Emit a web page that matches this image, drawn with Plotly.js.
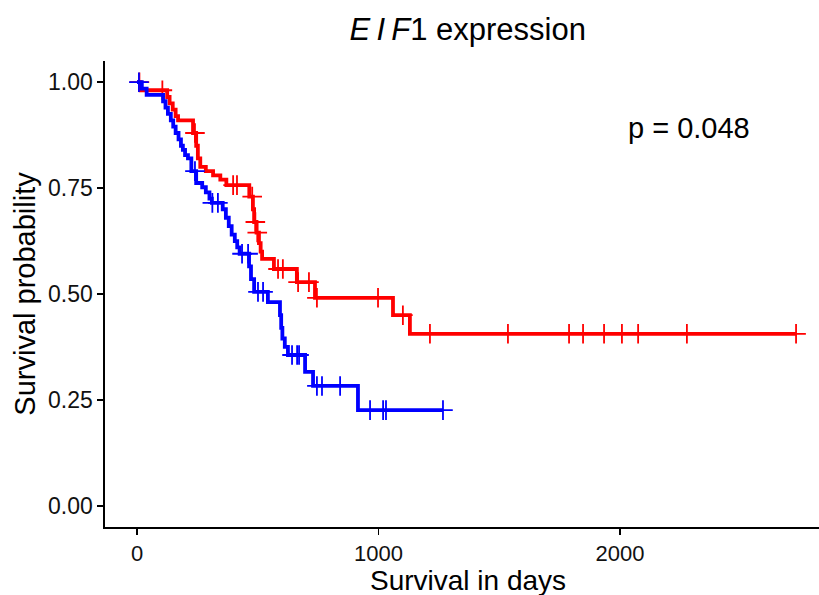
<!DOCTYPE html>
<html>
<head>
<meta charset="utf-8">
<script src="https://cdn.plot.ly/plotly-3.0.1.min.js"></script>
<style>html,body{margin:0;padding:0;background:#fff;}#chart{width:819px;height:595px;}</style>
</head>
<body>
<div id="chart"></div>
<script>
// High expression (red) step curve
var redTimes = [0, 15, 125, 135, 148, 160, 170, 232, 245, 252, 262, 285, 315, 345, 370, 465, 480, 485, 495, 505, 512, 518, 567, 662, 737, 1060, 1130, 2729];
var redSurv  = [1, 0.981, 0.965, 0.95, 0.935, 0.92, 0.91, 0.88, 0.85, 0.82, 0.80, 0.79, 0.78, 0.77, 0.757, 0.73, 0.70, 0.67, 0.645, 0.62, 0.60, 0.583, 0.559, 0.528, 0.491, 0.450, 0.406, 0.406];
var redCensorTimes = [10, 105, 240, 398, 414, 477, 490, 498, 584, 604, 667, 712, 745, 998, 1101, 1213, 1536, 1789, 1847, 1934, 2008, 2075, 2277, 2729];

// Low expression (blue) step curve
var blueTimes = [0, 20, 40, 108, 118, 128, 140, 150, 160, 172, 182, 190, 199, 211, 225, 245, 270, 285, 300, 310, 355, 368, 380, 392, 405, 415, 425, 464, 472, 485, 542, 592, 597, 602, 612, 625, 696, 729, 915, 1267];
var blueSurv  = [1, 0.985, 0.97, 0.955, 0.94, 0.925, 0.91, 0.895, 0.88, 0.865, 0.85, 0.84, 0.828, 0.82, 0.79, 0.762, 0.752, 0.74, 0.725, 0.715, 0.70, 0.68, 0.66, 0.64, 0.625, 0.61, 0.595, 0.565, 0.535, 0.505, 0.481, 0.45, 0.42, 0.395, 0.375, 0.356, 0.316, 0.283, 0.226, 0.226];
var blueCensorTimes = [8, 240, 312, 335, 435, 460, 501, 522, 642, 663, 671, 745, 766, 841, 965, 1019, 1031, 1267];

var xTicks = [0, 1000, 2000];
var yTicks = [0, 0.25, 0.5, 0.75, 1];
var pText = "p = 0.048";

function stepAt(times, surv, t) {
  var s = surv[0];
  for (var i = 0; i < times.length; i++) { if (times[i] <= t) s = surv[i]; }
  return s;
}

function curve(times, surv, censor, color) {
  return [
    {x: times, y: surv, mode: 'lines', line: {shape: 'hv', color: color, width: 3.8}, hoverinfo: 'skip', showlegend: false},
    {x: censor, y: censor.map(function(t){return stepAt(times, surv, t);}), mode: 'markers',
     marker: {symbol: 'cross-thin', size: 14, line: {color: color, width: 1.8}, color: color}, hoverinfo: 'skip', showlegend: false}
  ];
}

var data = [].concat(curve(redTimes, redSurv, redCensorTimes, '#FF0000'), curve(blueTimes, blueSurv, blueCensorTimes, '#0000FF'));

var font = 'Liberation Sans, Arial, sans-serif';
var layout = {
  width: 819, height: 595,
  margin: {l: 105, r: 0, t: 61, b: 68},
  paper_bgcolor: '#fff', plot_bgcolor: '#fff',
  font: {family: font, color: '#000'},
  title: {text: '<i>E\u2009I\u2009F</i>1 expression', font: {size: 31, family: font, color: '#000'}, x: 0.508, xref: 'paper', xanchor: 'center', y: 1 - 29/595, yref: 'container', yanchor: 'middle'},
  xaxis: {
    range: [-132.5, 2824], tickvals: xTicks, ticktext: xTicks.map(String),
    showgrid: false, zeroline: false, showline: true, linecolor: '#000', linewidth: 1.6,
    ticks: 'outside', ticklen: 6, tickwidth: 1.4, tickcolor: '#000',
    tickfont: {size: 22, color: '#111'}
  },
  yaxis: {
    range: [-0.05, 1.05], tickvals: yTicks, ticktext: yTicks.map(function(v){return v.toFixed(2);}),
    showgrid: false, zeroline: false, showline: true, linecolor: '#000', linewidth: 1.6,
    ticks: 'outside', ticklen: 6, tickwidth: 1.4, tickcolor: '#000',
    tickfont: {size: 23, color: '#111'},
    title: {text: 'Survival probability', font: {size: 29, color: '#000'}, standoff: 4}
  },
  annotations: [
    {text: pText, xref: 'paper', yref: 'paper', x: (689-105)/714, y: (527-128)/466, xanchor: 'center', yanchor: 'middle', showarrow: false, font: {size: 29, color: '#000'}},
    {text: 'Survival in days', xref: 'paper', yref: 'paper', x: (468-105)/714, y: (527-580)/466, xanchor: 'center', yanchor: 'middle', showarrow: false, font: {size: 28, color: '#000'}}
  ]
};

Plotly.newPlot('chart', data, layout, {displayModeBar: false, staticPlot: true});
</script>
</body>
</html>
